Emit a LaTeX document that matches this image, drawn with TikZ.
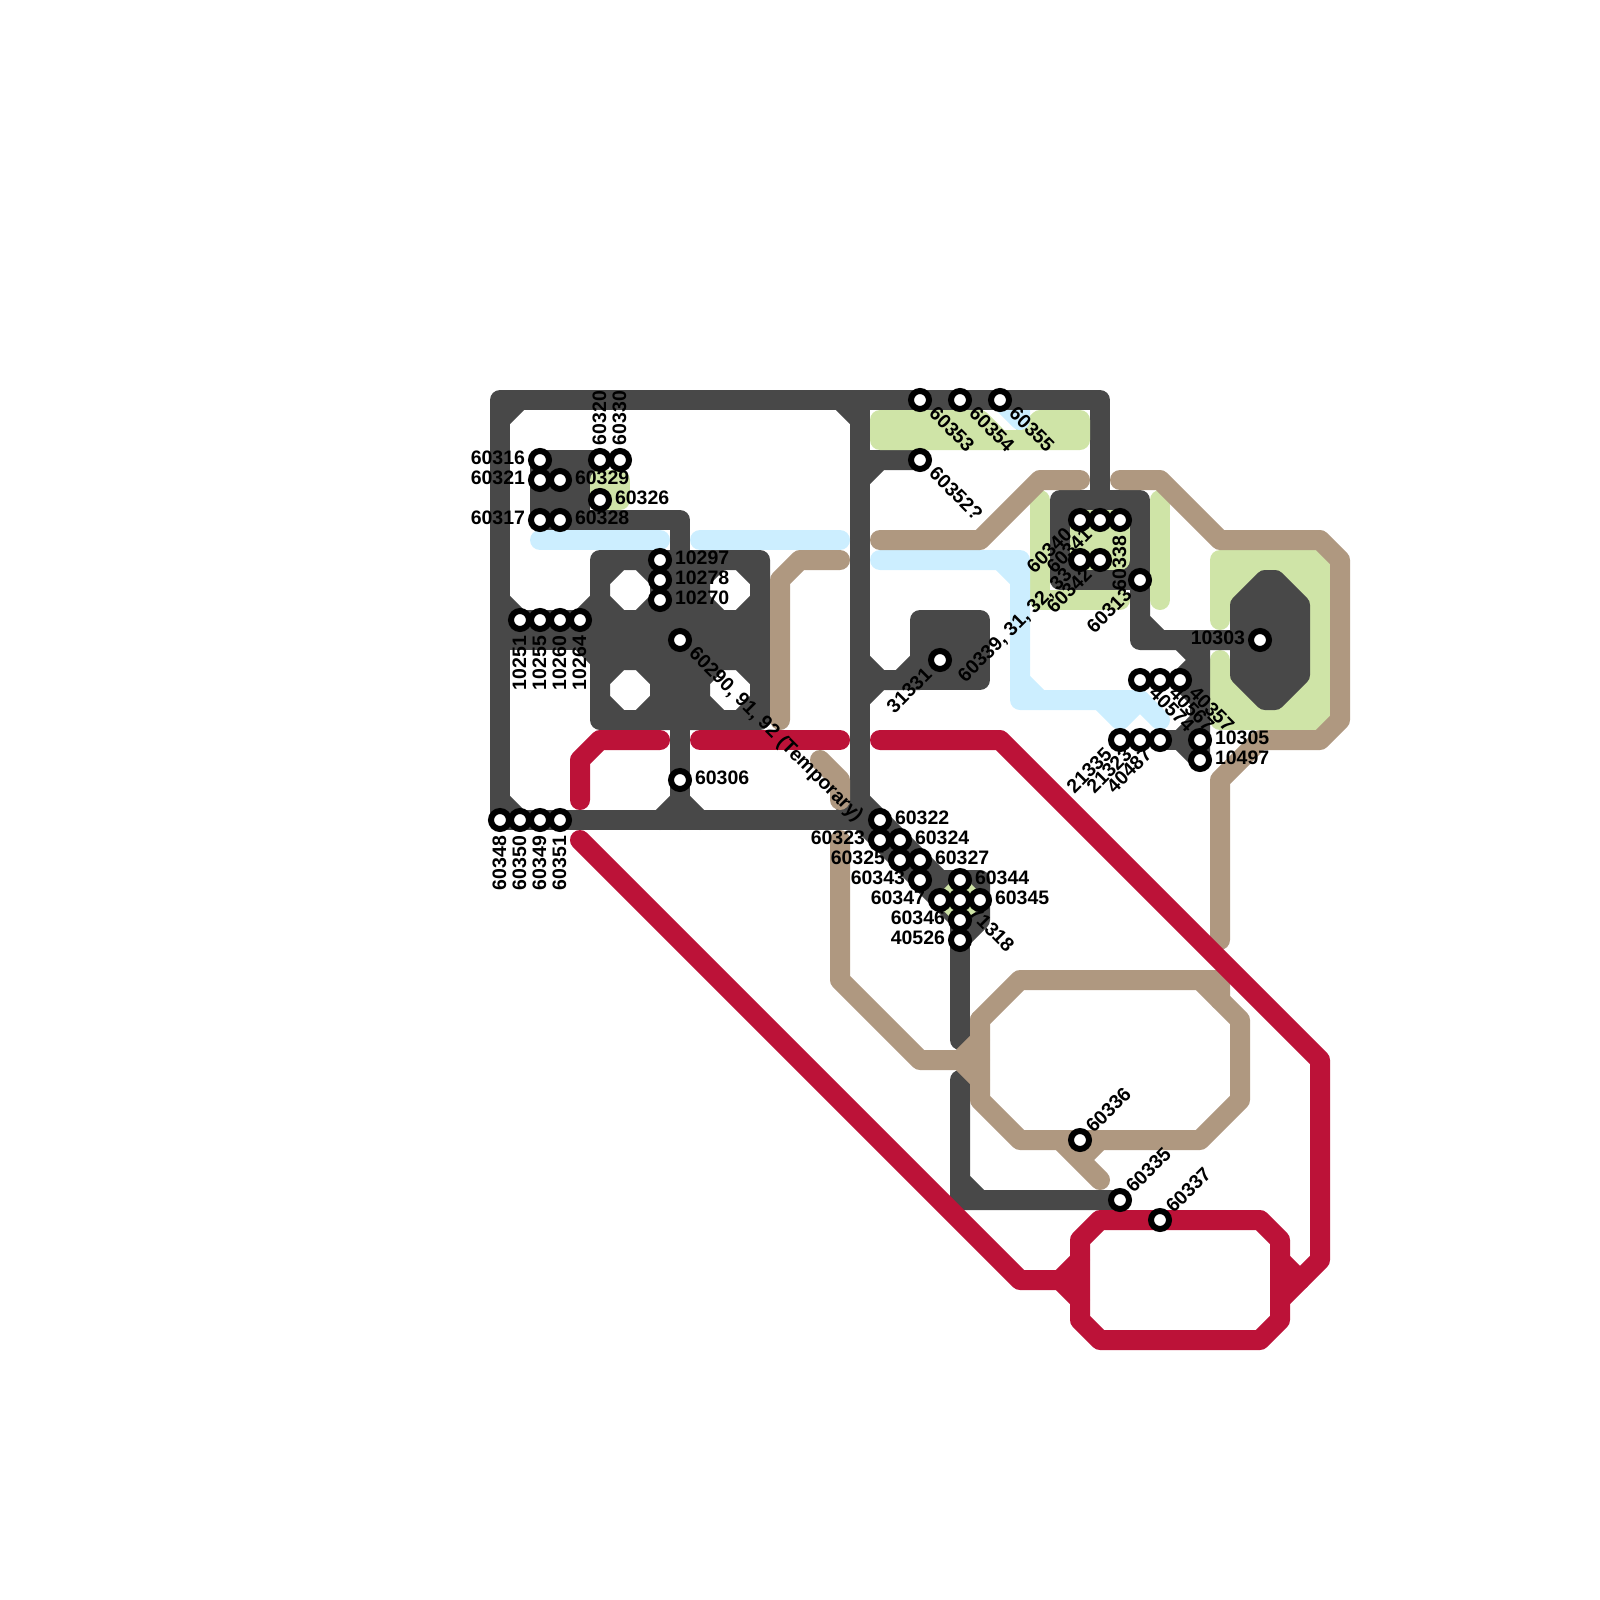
\documentclass[tikz,border=0pt]{standalone}
\usepackage{fontspec}
\setmainfont{Liberation Sans}
\definecolor{cdark}{HTML}{484848}
\definecolor{cgreen}{HTML}{CFE4A7}
\definecolor{cblue}{HTML}{CCEEFF}
\definecolor{ctan}{HTML}{AF9880}
\definecolor{cred}{HTML}{BC1238}
\tikzset{
  ln/.style={line width=20pt,line cap=round,line join=round},
  dk/.style={ln,draw=cdark},
  dkf/.style={ln,draw=cdark,fill=cdark,even odd rule},
  gr/.style={ln,draw=cgreen},
  grf/.style={ln,draw=cgreen,fill=cgreen},
  bl/.style={ln,draw=cblue},
  tn/.style={ln,draw=ctan},
  rd/.style={ln,draw=cred},
  lab/.style={inner sep=0pt,outer sep=0pt,text=black,text height=14pt,text depth=0pt,font=\fontsize{19.5}{20}\selectfont\bfseries},
  stn/.style={circle,draw=black,fill=white,line width=6pt,minimum size=18pt,inner sep=0pt,outer sep=0pt}
}
\newcommand{\lR}[3]{\node[lab,anchor=west] (t#1-#2) at ([shift={(15,-3)}]#1,#2) {#3};}
\newcommand{\lL}[3]{\node[lab,anchor=east] (t#1-#2) at ([shift={(-15,-3)}]#1,#2) {#3};}
\newcommand{\lU}[3]{\node[lab,anchor=west,rotate=90] (t#1-#2) at ([shift={(-1,-15)}]#1,#2) {#3};}
\newcommand{\lD}[3]{\node[lab,anchor=east,rotate=90] (t#1-#2) at ([shift={(-1,16)}]#1,#2) {#3};}
\newcommand{\lSE}[3]{\node[lab,anchor=west,rotate=-45] (t#1-#2) at ([shift={(13,10)}]#1,#2) {#3};}
\newcommand{\lNE}[3]{\node[lab,anchor=west,rotate=45] (t#1-#2) at ([shift={(9,-11)}]#1,#2) {#3};}
\newcommand{\lSW}[3]{\node[lab,anchor=east,rotate=45] (t#1-#2) at ([shift={(-12,11)}]#1,#2) {#3};}
\begin{document}
\begin{tikzpicture}[x=1pt,y=-1pt]
\useasboundingbox (0,0) rectangle (1600,1600);
% green ring (under the dark octagon)
\filldraw[grf] (1240,560) rectangle (1320,720);
\draw[gr] (1220,620)--(1220,560)--(1320,560);
\draw[gr] (1220,660)--(1220,720)--(1320,720);
% dark
\draw[dk] (860,400)--(860,820);
\draw[dk] (1100,500)--(1100,400)--(500,400)--(500,820)--(860,820);
\draw[dk] (500,420)--(520,400) (840,400)--(860,420) (500,800)--(520,820) (840,820)--(860,800);
\draw[dk] (500,620)--(600,620) (500,640)--(600,640);
\draw[dk] (500,600)--(520,620) (580,620)--(600,600) (580,640)--(600,660);
\filldraw[dkf] (600,560)--(760,560)--(760,720)--(600,720)--cycle
 (620,560)--(640,560)--(660,580)--(660,600)--(640,620)--(620,620)--(600,600)--(600,580)--cycle
 (720,560)--(740,560)--(760,580)--(760,600)--(740,620)--(720,620)--(700,600)--(700,580)--cycle
 (620,660)--(640,660)--(660,680)--(660,700)--(640,720)--(620,720)--(600,700)--(600,680)--cycle
 (720,660)--(740,660)--(760,680)--(760,700)--(740,720)--(720,720)--(700,700)--(700,680)--cycle;
\filldraw[dkf] (540,460)--(600,460)--(580,480)--(580,520)--(540,520)--cycle;
\draw[dk] (540,520)--(680,520)--(680,820);
\draw[dk] (660,820)--(680,800)--(700,820);
\draw[dk] (860,480)--(880,460)--(920,460) (860,460)--(880,460);
\filldraw[dkf] (920,620)--(980,620)--(980,680)--(920,680)--cycle;
\draw[dk] (860,680)--(920,680) (860,660)--(880,680)--(860,700) (920,660)--(900,680);
\filldraw[dkf] (1060,500)--(1140,500)--(1140,580)--(1060,580)--cycle;
\draw[dk] (1140,580)--(1140,640)--(1240,640) (1140,620)--(1160,640);
\filldraw[dkf] (1240,605)--(1265,580)--(1275,580)--(1300,605)--(1300,675)--(1275,700)--(1265,700)--(1240,675)--cycle;
\filldraw[dkf] (1200,640)--(1180,640)--(1200,660)--(1180,680)--(1200,700)--(1200,720)--(1180,740)--(1200,760)--cycle;
\draw[dk] (1160,740)--(1200,740);
\filldraw[dkf] (860,800)--(940,880)--(980,880)--(980,920)--(960,940)--(960,920)--(880,840)--(860,820)--cycle;
\draw[dk] (960,940)--(960,1040);
\draw[dk] (960,1080)--(960,1200)--(1120,1200) (960,1180)--(980,1200);
% green over dark
\filldraw[grf] (880,420)--(980,420)--(1000,440)--(1020,440)--(1040,420)--(1080,420)--(1080,440)--(880,440)--cycle;
\filldraw[grf] (600,480) rectangle (620,500);
\draw[gr] (1040,500)--(1040,600)--(1120,600);
\draw[gr] (1160,500)--(1160,600);
\filldraw[grf] (1080,520) rectangle (1120,560);
\draw[cgreen,line width=10pt] (960,880)--(980,900)--(960,920)--(940,900)--cycle;
% blue
\begin{scope}
\clip (980,410) rectangle (1040,440);
\draw[bl] (1000,400)--(1020,420)--(1020,400);
\end{scope}
\draw[bl] (540,540)--(660,540);
\draw[bl] (700,540)--(840,540);
\draw[bl] (880,560)--(1020,560)--(1020,700)--(1140,700)--(1160,720);
\draw[bl] (1000,560)--(1020,580) (1020,680)--(1040,700) (1100,700)--(1120,720)--(1140,700);
% tan
\draw[tn] (780,720)--(780,580)--(800,560)--(840,560);
\draw[tn] (820,760)--(840,780)--(840,800);
\draw[tn] (840,840)--(840,980)--(920,1060)--(980,1060);
\draw[tn] (960,1060)--(980,1040) (960,1060)--(980,1080);
\draw[tn] (980,1020)--(1020,980)--(1220,980)--(1220,1000);
\draw[tn] (980,1020)--(980,1100)--(1020,1140)--(1200,1140)--(1240,1100)--(1240,1020)--(1200,980);
\draw[tn] (1060,1140)--(1100,1180) (1080,1160)--(1100,1140);
\draw[tn] (880,540)--(980,540)--(1040,480)--(1080,480);
\draw[tn] (1120,480)--(1160,480)--(1220,540)--(1320,540)--(1340,560)--(1340,720)--(1320,740)--(1260,740)--(1220,780)--(1220,940);
% red
\draw[rd] (580,800)--(580,760)--(600,740)--(660,740);
\draw[rd] (700,740)--(840,740);
\draw[rd] (880,740)--(1000,740)--(1320,1060)--(1320,1260)--(1280,1300);
\draw[rd] (1280,1260)--(1300,1280);
\draw[rd] (580,840)--(1020,1280)--(1060,1280)--(1080,1260);
\draw[rd] (1060,1280)--(1080,1300);
\draw[rd] (1100,1220)--(1260,1220)--(1280,1240)--(1280,1320)--(1260,1340)--(1100,1340)--(1080,1320)--(1080,1240)--cycle;
% labels
\lL{540}{460}{60316}\lL{540}{480}{60321}\lL{540}{520}{60317}
\lR{560}{480}{60329}\lR{560}{520}{60328}\lR{600}{500}{60326}
\lU{600}{460}{60320}\lU{620}{460}{60330}
\lR{660}{560}{10297}\lR{660}{580}{10278}\lR{660}{600}{10270}
\lD{520}{620}{10251}\lD{540}{620}{10255}\lD{560}{620}{10260}\lD{580}{620}{10264}
\lD{500}{820}{60348}\lD{520}{820}{60350}\lD{540}{820}{60349}\lD{560}{820}{60351}
\lSE{680}{640}{60290, 91, 92 (Temporary)}
\lR{680}{780}{60306}
\lSE{920}{400}{60353}\lSE{960}{400}{60354}\lSE{1000}{400}{60355}\lSE{920}{460}{60352?}
\lSW{940}{660}{31331}
\lSW{1080}{520}{60340}\lSW{1100}{520}{60341}
\lSW{1080}{560}{60339, 31, 32, 33}\lSW{1100}{560}{60342}
\lD{1120}{520}{60338}
\lSW{1140}{580}{60313}
\lL{1260}{640}{10303}
\lSE{1140}{680}{40574}\lSE{1160}{680}{40567}\lSE{1180}{680}{40357}
\lSW{1120}{740}{21335}\lSW{1140}{740}{21323}\lSW{1160}{740}{40487}
\lR{1200}{740}{10305}\lR{1200}{760}{10497}
\lR{880}{820}{60322}\lL{880}{840}{60323}\lR{900}{840}{60324}\lL{900}{860}{60325}
\lR{920}{860}{60327}\lL{920}{880}{60343}\lR{960}{880}{60344}\lL{940}{900}{60347}
\lR{980}{900}{60345}\lL{960}{920}{60346}\lL{960}{940}{40526}
\lSE{960}{900}{71318}
\lNE{1080}{1140}{60336}\lNE{1120}{1200}{60335}\lNE{1160}{1220}{60337}
% stations
\foreach \x/\y in {540/460,540/480,560/480,600/460,620/460,600/500,540/520,560/520,
 660/560,660/580,660/600,520/620,540/620,560/620,580/620,680/640,680/780,
 500/820,520/820,540/820,560/820,920/400,960/400,1000/400,920/460,940/660,
 1080/520,1100/520,1120/520,1080/560,1100/560,1140/580,1260/640,
 1140/680,1160/680,1180/680,1120/740,1140/740,1160/740,1200/740,1200/760,
 880/820,880/840,900/840,900/860,920/860,920/880,960/880,940/900,960/900,980/900,960/920,960/940,
 1080/1140,1120/1200,1160/1220}
  \node[stn] (s\x-\y) at (\x,\y) {};
\end{tikzpicture}
\end{document}
